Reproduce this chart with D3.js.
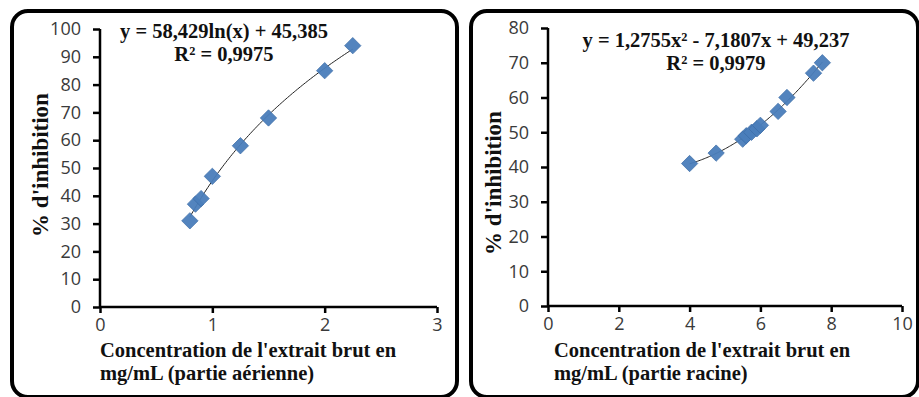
<!DOCTYPE html>
<html>
<head>
<meta charset="utf-8">
<script src="https://cdn.jsdelivr.net/npm/d3@7"></script>
<style>
  html, body { margin: 0; padding: 0; background: #fff; }
  svg { display: block; }
  .tick text { font-family: "Open Sans", "Liberation Sans", sans-serif; font-size: 18px; fill: #3a3a3a; }
  .lbl { font-family: "Liberation Serif", "Times New Roman", serif; font-weight: bold; fill: #111; }
</style>
</head>
<body>
<svg id="chart" width="919" height="397"></svg>
<script>
// Partie aérienne
const aerX = [0.8, 0.85, 0.9, 1.0, 1.25, 1.5, 2.0, 2.25];
const aerY = [31, 37, 39, 47, 58, 68, 85, 94];
const aerXTicks = [0, 1, 2, 3];
const aerYTicks = [0, 10, 20, 30, 40, 50, 60, 70, 80, 90, 100];

// Partie racine
const racX = [4.0, 4.75, 5.5, 5.6, 5.75, 5.9, 6.0, 6.5, 6.75, 7.5, 7.75];
const racY = [41, 44, 48, 49, 50, 51, 52, 56, 60, 67, 70];
const racXTicks = [0, 2, 4, 6, 8, 10];
const racYTicks = [0, 10, 20, 30, 40, 50, 60, 70, 80];

// Trendline coefficients
const aerLog = { a: 58.429, b: 45.385 };
const racPoly = { a: 1.2755, b: -7.1807, c: 49.237 };

const svg = d3.select("#chart");

function panel(cfg) {
  const g = svg.append("g");
  // rounded frame
  g.append("rect")
    .attr("x", cfg.frame[0]).attr("y", cfg.frame[1])
    .attr("width", cfg.frame[2]).attr("height", cfg.frame[3])
    .attr("rx", 16).attr("ry", 16)
    .attr("fill", "#fff").attr("stroke", "#000").attr("stroke-width", 4);

  const x = d3.scaleLinear().domain(cfg.xDomain).range(cfg.xRange);
  const y = d3.scaleLinear().domain(cfg.yDomain).range(cfg.yRange);

  const yAxis = g.append("g")
    .attr("transform", `translate(${cfg.xRange[0]},0)`)
    .call(d3.axisLeft(y).tickValues(cfg.yTicks).tickFormat(d3.format("d")).tickSize(7).tickPadding(12));
  const xAxis = g.append("g")
    .attr("transform", `translate(0,${cfg.yRange[0]})`)
    .call(d3.axisBottom(x).tickValues(cfg.xTicks).tickFormat(d3.format("d")).tickSize(6).tickPadding(10));
  [yAxis, xAxis].forEach(a => {
    a.select(".domain").attr("stroke", "#000").attr("stroke-width", 2.5);
    a.selectAll(".tick line").attr("stroke", "#000").attr("stroke-width", 2.5);
  });
  yAxis.select(".domain").attr("d", `M0,${cfg.yRange[0]}V${cfg.yRange[1]}`);
  xAxis.select(".domain").attr("d", `M${cfg.xRange[0]},0H${cfg.xRange[1]}`);
  xAxis.selectAll(".tick text").attr("dy", "0.45em");

  // trendline
  const xs = d3.range(0, 101).map(i => cfg.trendFrom + (cfg.trendTo - cfg.trendFrom) * i / 100);
  g.append("path")
    .datum(xs)
    .attr("fill", "none").attr("stroke", "#222").attr("stroke-width", 1)
    .attr("d", d3.line().x(d => x(d)).y(d => y(cfg.trend(d))));

  // markers
  const diamond = d3.symbol().type(d3.symbolDiamond2).size(170);
  g.selectAll("path.pt")
    .data(cfg.xs.map((v, i) => [v, cfg.ys[i]]))
    .join("path")
    .attr("class", "pt")
    .attr("transform", d => `translate(${x(d[0])},${y(d[1])})`)
    .attr("d", diamond)
    .attr("fill", "#4A7EBB").attr("stroke", "#3C6DA8").attr("stroke-width", 0.8)
    .attr("opacity", 0.95);

  // equation and R²
  g.append("text").attr("class", "lbl")
    .attr("x", cfg.eqX).attr("y", cfg.eqY)
    .attr("text-anchor", "middle").style("font-size", "20.5px")
    .text(cfg.eq);
  g.append("text").attr("class", "lbl")
    .attr("x", cfg.eqX).attr("y", cfg.eqY + 23)
    .attr("text-anchor", "middle").style("font-size", "20.5px")
    .text(cfg.r2);

  // axis titles
  g.append("text").attr("class", "lbl")
    .attr("transform", `translate(${cfg.yTitleX},${cfg.yTitleY}) rotate(-90)`)
    .attr("text-anchor", "middle").style("font-size", "23px")
    .text("% d'inhibition");
  const xt = g.append("text").attr("class", "lbl")
    .style("font-size", "20.5px");
  xt.append("tspan").attr("x", cfg.xTitleX).attr("y", 357).text("Concentration de l'extrait brut en");
  xt.append("tspan").attr("x", cfg.xTitleX).attr("y", 380).text(cfg.xTitle2);
}

panel({
  frame: [12, 11, 445, 386],
  xDomain: [0, 3], xRange: [100, 437],
  yDomain: [0, 100], yRange: [307, 29],
  xTicks: aerXTicks, yTicks: aerYTicks,
  xs: aerX, ys: aerY,
  trend: v => aerLog.a * Math.log(v) + aerLog.b,
  trendFrom: 0.8, trendTo: 2.25,
  eq: "y = 58,429ln(x) + 45,385", r2: "R² = 0,9975",
  eqX: 224, eqY: 38,
  yTitleX: 48, yTitleY: 165,
  xTitleX: 100, xTitle2: "mg/mL (partie aérienne)"
});

panel({
  frame: [471, 11, 447, 386],
  xDomain: [0, 10], xRange: [548, 902],
  yDomain: [0, 80], yRange: [306, 28],
  xTicks: racXTicks, yTicks: racYTicks,
  xs: racX, ys: racY,
  trend: v => racPoly.a * v * v + racPoly.b * v + racPoly.c,
  trendFrom: 4.0, trendTo: 7.75,
  eq: "y = 1,2755x² - 7,1807x + 49,237", r2: "R² = 0,9979",
  eqX: 716, eqY: 47,
  yTitleX: 501, yTitleY: 183,
  xTitleX: 554, xTitle2: "mg/mL (partie racine)"
});
</script>
</body>
</html>
